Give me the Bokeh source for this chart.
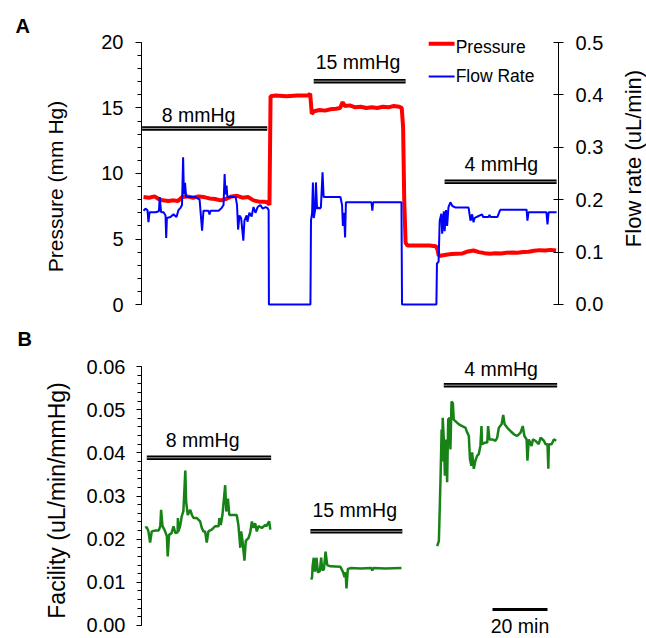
import math
from bokeh.plotting import figure
from bokeh.models import Range1d, LinearAxis, FixedTicker, PrintfTickFormatter
from bokeh.layouts import column, row
from bokeh.embed import file_html
from bokeh.resources import INLINE
from bokeh.core.properties import value

FONT = "Liberation Sans"

# ---------------- Panel A data (time in minutes) ----------------
pressure_points = [
    (0, 8.2), (2, 8.15), (4, 8.25), (5.5, 8.05), (7, 7.95), (9, 7.9), (11, 7.95), (12.5, 7.9),
    (14, 8.2), (16, 8.25), (18, 8.15), (20, 8.25), (22, 8.2), (24, 8.1), (26, 8.05), (28, 7.95),
    (30, 8.05), (32, 8.25), (34, 8.3), (36, 8.15), (38, 8.2), (40, 7.95), (42, 7.85), (44, 7.85),
    (45.3, 7.75), (45.8, 7.6), (46.2, 15.9), (48, 15.95), (52, 15.9), (56, 15.95), (60.0, 15.95),
    (60.6, 16.1), (61.2, 14.55), (62, 14.75), (64, 14.85), (66, 14.8), (68, 14.9), (70, 14.95),
    (71.5, 15.0), (72.4, 15.45), (73.2, 15.15), (75, 15.2), (77, 15.05), (79, 15.1), (81, 15.0),
    (83, 15.05), (85, 15.0), (87, 15.1), (89, 15.05), (91, 15.15), (93, 15.1), (93.9, 15.0),
    (94.4, 13.5), (94.8, 8.0), (95.3, 4.7), (96, 4.5), (100, 4.5), (104, 4.5), (106.3, 4.45),
    (106.9, 4.2), (107.3, 3.75), (108, 3.72), (110, 3.8), (112, 3.85), (114, 3.88), (116, 3.9),
    (118, 4.05), (120, 4.12), (122, 4.0), (124, 3.92), (126, 3.88), (128, 3.92), (130, 3.9),
    (132, 3.95), (134, 3.97), (136, 3.95), (138, 4.0), (140, 4.02), (142, 4.1), (144, 4.15),
    (146, 4.12), (148, 4.17), (150, 4.12),
]

flow_points = [
    (0.0, 0.179), (0.73, 0.183), (1.45, 0.180), (1.8, 0.157), (2.2, 0.176), (3.3, 0.176),
    (4.4, 0.176), (5.6, 0.178), (5.9, 0.205), (6.4, 0.176), (7.3, 0.176), (8.0, 0.170),
    (8.25, 0.127), (8.5, 0.165), (9.8, 0.167), (10.9, 0.172), (12.0, 0.167), (12.7, 0.180),
    (13.5, 0.185), (14.0, 0.190), (14.4, 0.281), (14.7, 0.210), (15.1, 0.232), (15.5, 0.205),
    (17.1, 0.205), (18.9, 0.205), (20.4, 0.200), (21.3, 0.141), (21.8, 0.179), (23.6, 0.179),
    (24.0, 0.172), (24.4, 0.179), (27.3, 0.179), (28.4, 0.184), (29.1, 0.190), (29.5, 0.249),
    (29.8, 0.210), (30.2, 0.227), (30.5, 0.205), (33.5, 0.205), (34.0, 0.190), (34.4, 0.143),
    (34.9, 0.170), (35.5, 0.165), (36.3, 0.122), (36.7, 0.160), (37.5, 0.170), (37.8, 0.158),
    (38.5, 0.175), (39.3, 0.168), (40.0, 0.186), (40.7, 0.175), (41.5, 0.186), (42.5, 0.190),
    (43.3, 0.183), (44.4, 0.186), (45.1, 0.184), (45.5, 0.180), (45.6, 0.0), (60.7, 0.0),
    (60.9, 0.160), (61.3, 0.175), (61.6, 0.233), (61.9, 0.165), (62.4, 0.180), (62.7, 0.233),
    (63.1, 0.183), (63.6, 0.185), (64.0, 0.183), (64.5, 0.185), (65.1, 0.2525), (65.5, 0.205),
    (68.0, 0.205), (71.6, 0.205), (72.2, 0.190), (72.5, 0.150), (72.9, 0.175), (73.3, 0.128),
    (73.6, 0.195), (78.9, 0.195), (82.9, 0.195), (83.2, 0.179), (83.5, 0.195), (93.8, 0.195),
    (94.0, 0.0), (106.5, 0.0), (106.7, 0.078), (107.3, 0.082), (107.7, 0.160), (108.3, 0.173),
    (108.6, 0.135), (109.2, 0.178), (109.5, 0.140), (110.0, 0.180), (110.4, 0.150),
    (110.9, 0.186), (111.6, 0.195), (112.3, 0.188), (113.5, 0.185), (118.2, 0.185),
    (118.9, 0.160), (119.5, 0.172), (120.0, 0.157), (120.4, 0.165), (121.1, 0.167),
    (123.1, 0.172), (123.5, 0.167), (125.5, 0.167), (125.8, 0.171), (126.2, 0.167),
    (128.7, 0.167), (129.5, 0.178), (129.8, 0.181), (139.3, 0.181), (139.6, 0.160),
    (140.0, 0.176), (146.5, 0.176), (146.9, 0.153), (147.3, 0.176), (150.2, 0.176),
]

# ---------------- Panel B data ----------------
facility8_points = [
    (0.6, 0.0226), (1.2, 0.0228), (1.8, 0.0218), (2.4, 0.0192), (3.0, 0.0218), (4.4, 0.0220),
    (5.5, 0.0220), (6.1, 0.0230), (6.4, 0.0268), (6.9, 0.0230), (7.6, 0.0222), (8.5, 0.0207),
    (8.8, 0.0160), (9.3, 0.0210), (10.2, 0.0214), (10.9, 0.0230), (11.6, 0.0214), (12.4, 0.0216),
    (12.5, 0.0249), (12.7, 0.0218), (13.3, 0.0230), (13.9, 0.0253), (14.5, 0.0265), (15.2, 0.0359),
    (15.5, 0.0287), (16.1, 0.0256), (17.0, 0.0268), (17.6, 0.0256), (18.2, 0.0249), (19.4, 0.0249),
    (20.6, 0.0241), (21.2, 0.0226), (21.8, 0.0218), (22.4, 0.0218), (23.0, 0.0192), (23.6, 0.0218),
    (24.8, 0.0222), (26.1, 0.0230), (27.3, 0.0230), (27.6, 0.0249), (28.1, 0.0233), (28.7, 0.0256),
    (29.7, 0.0325), (30.1, 0.0264), (30.7, 0.0294), (31.2, 0.0256), (32.4, 0.0256), (33.9, 0.0256),
    (34.5, 0.0233), (35.2, 0.0180), (35.5, 0.0218), (36.0, 0.0196), (36.7, 0.0150), (37.2, 0.0196),
    (38.2, 0.0203), (38.8, 0.0215), (39.4, 0.0241), (40.0, 0.0226), (40.6, 0.0237), (41.2, 0.0218),
    (41.8, 0.0230), (43.0, 0.0226), (44.3, 0.0233), (44.6, 0.0230), (45.7, 0.0241), (46.1, 0.0222),
]

facility15_points = [
    (61.0, 0.0106), (61.3, 0.0112), (61.5, 0.0138), (61.9, 0.0157), (62.3, 0.0125), (62.7, 0.0135),
    (62.9, 0.0157), (63.4, 0.0123), (64.1, 0.0126), (64.6, 0.0157), (65.0, 0.0128), (65.6, 0.0130),
    (66.2, 0.0171), (66.8, 0.0140), (68.0, 0.0137), (71.6, 0.0136), (72.6, 0.0123), (73.1, 0.0112),
    (73.5, 0.0123), (73.8, 0.0086), (74.3, 0.0131), (75.3, 0.0133), (78.9, 0.0132), (82.9, 0.0133),
    (83.2, 0.0127), (83.5, 0.0133), (88.0, 0.0132), (93.8, 0.0133),
]

facility4_points = [
    (106.8, 0.0184), (107.4, 0.0196), (107.8, 0.0290), (108.0, 0.0340), (108.4, 0.0454),
    (108.6, 0.0380), (108.8, 0.0481), (109.2, 0.0431), (109.6, 0.0347), (110.1, 0.0431),
    (110.4, 0.0332), (110.8, 0.0477), (111.3, 0.0481), (111.6, 0.0408), (112.0, 0.0519),
    (112.5, 0.0515), (112.8, 0.0477), (113.5, 0.0473), (114.7, 0.0466), (115.9, 0.0462),
    (117.1, 0.0458), (117.7, 0.0447), (118.3, 0.0439), (118.7, 0.0386), (119.2, 0.0370),
    (119.5, 0.0401), (120.1, 0.0363), (120.7, 0.0382), (121.3, 0.0393), (121.9, 0.0397),
    (122.5, 0.0416), (122.9, 0.0462), (123.1, 0.0420), (124.4, 0.0424), (125.0, 0.0424),
    (125.3, 0.0462), (125.8, 0.0431), (126.8, 0.0431), (128.0, 0.0428), (128.6, 0.0435),
    (129.2, 0.0458), (130.2, 0.0466), (130.8, 0.0488), (131.3, 0.0466), (132.3, 0.0458),
    (133.5, 0.0450), (134.7, 0.0443), (135.9, 0.0439), (137.1, 0.0447), (137.9, 0.0462),
    (138.5, 0.0439), (139.3, 0.0431), (139.6, 0.0382), (140.1, 0.0431), (141.1, 0.0416),
    (141.6, 0.0431), (142.5, 0.0428), (143.7, 0.0420), (144.4, 0.0435), (145.6, 0.0428),
    (146.2, 0.0420), (146.9, 0.0420), (147.2, 0.0363), (147.4, 0.0420), (148.4, 0.0420),
    (149.2, 0.0431), (150.1, 0.0428),
]

# condition annotations (bars + labels)
cond_labels = ["8 mmHg", "15 mmHg", "4 mmHg"]
condA_start = [-0.5, 61.9, 109.5]
condA_end = [45.0, 95.3, 150.2]
condA_level = [13.44, 17.05, 9.37]
condA_text_x = [20.0, 78.0, 130.1]
condA_text_y = [14.49, 18.49, 10.73]

condB_start = [1.2, 60.7, 109.2]
condB_end = [46.4, 94.1, 150.4]
condB_level = [0.03886, 0.02183, 0.05567]
condB_text_x = [21.5, 76.8, 130.0]
condB_text_y = [0.04289, 0.02674, 0.05943]

scale_bar_start = [126.9]
scale_bar_end = [146.9]
scale_bar_label = ["20 min"]

legend_labels = ["Pressure", "Flow Rate"]

pA_ticks = [0, 5, 10, 15, 20]
pA_minor = list(range(0, 21))
flow_ticks = [0.0, 0.1, 0.2, 0.3, 0.4, 0.5]
fac_ticks = [0.0, 0.01, 0.02, 0.03, 0.04, 0.05, 0.06]
fac_minor = [round(i * 0.002, 3) for i in range(31)]


def unzip(points):
    return [p[0] for p in points], [p[1] for p in points]


LEFT_W, RIGHT_W = 72, 36
MAIN_W = 646 - LEFT_W - RIGHT_W
HA, HB = 318, 320
T_RANGE = (-0.73, 150.9)


def style_axis(ax, size="20px"):
    ax.axis_line_color = "black"
    ax.axis_line_width = 1
    ax.major_tick_line_color = "black"
    ax.minor_tick_line_color = "black"
    ax.major_label_text_font = FONT
    ax.major_label_text_font_size = size
    ax.major_label_text_color = "black"


def bare(p):
    p.outline_line_color = None
    p.grid.grid_line_color = None
    p.background_fill_color = "white"
    p.border_fill_color = "white"
    return p


def make_fig(height, y_range):
    p = figure(width=MAIN_W, height=height, output_backend="svg", toolbar_location=None,
               x_range=Range1d(*T_RANGE), y_range=Range1d(*y_range),
               x_axis_location=None, y_axis_location="left", title=None,
               min_border_left=141 - LEFT_W, min_border_right=MAIN_W - (558 - LEFT_W),
               min_border_top=0, min_border_bottom=0)
    return bare(p)


def gutter(width, height):
    g = figure(width=width, height=height, output_backend="svg", toolbar_location=None,
               x_range=Range1d(0, width), y_range=Range1d(0, height),
               x_axis_location=None, y_axis_location=None, title=None,
               min_border_left=0, min_border_right=0, min_border_top=0, min_border_bottom=0)
    return bare(g)


def double_bar(p, x0, x1, y):
    p.segment(x0=x0, y0=y, x1=x1, y1=y, line_color="black", line_width=4.5)
    p.segment(x0=x0, y0=y, x1=x1, y1=y, line_color="#a0a0a0", line_width=1)


# ---------------- Panel A ----------------
pA = make_fig(HA, (-1.0687, 23.2061))
pA.extra_y_ranges = {"flow": Range1d(-0.026718, 0.580153)}

ax = pA.yaxis[0]
style_axis(ax)
ax.bounds = (0, 20)
ax.ticker = FixedTicker(ticks=pA_ticks, minor_ticks=pA_minor)
ax.major_tick_out = 6
ax.major_tick_in = 0
ax.minor_tick_out = 4
ax.minor_tick_in = 0
ax.major_label_standoff = 12

rax = LinearAxis(y_range_name="flow", bounds=(0, 0.5),
                 ticker=FixedTicker(ticks=flow_ticks),
                 formatter=PrintfTickFormatter(format="%.1f"))
style_axis(rax)
rax.major_tick_out = 5
rax.major_tick_in = 5
rax.minor_tick_out = 0
rax.minor_tick_in = 0
rax.major_label_standoff = 12
pA.add_layout(rax, "right")

pt, pv = unzip(pressure_points)
ft, fv = unzip(flow_points)
pA.line(pt, pv, line_color="#ff0000", line_width=4)
pA.line(ft, fv, line_color="#0000ff", line_width=2, y_range_name="flow")

double_bar(pA, condA_start, condA_end, condA_level)
pA.text(x=condA_text_x, y=condA_text_y, text=cond_labels, text_font=value(FONT),
        text_font_size="19.5px", text_align="center", text_baseline="alphabetic", text_color="black")

# legend
pA.segment(x0=[103.7], y0=[19.9], x1=[113.1], y1=[19.9], line_color="#ff0000", line_width=4)
pA.segment(x0=[103.7], y0=[17.4], x1=[113.1], y1=[17.4], line_color="#0000ff", line_width=2)
pA.text(x=[113.5, 113.5], y=[19.66, 17.47], text=legend_labels, text_font=value(FONT),
        text_font_size="17.5px", text_align="left", text_baseline="alphabetic", text_color="black")

# ---------------- Panel B ----------------
pB = make_fig(HB, (-0.0030116, 0.071120))
bx = pB.yaxis[0]
style_axis(bx)
bx.bounds = (0, 0.06)
bx.ticker = FixedTicker(ticks=fac_ticks, minor_ticks=fac_minor)
bx.formatter = PrintfTickFormatter(format="%.2f")
bx.major_tick_out = 5
bx.major_tick_in = 0
bx.minor_tick_out = 4
bx.minor_tick_in = 0
bx.major_label_standoff = 11

for pts in (facility8_points, facility15_points, facility4_points):
    t, v = unzip(pts)
    pB.line(t, v, line_color="#178317", line_width=2.5)

double_bar(pB, condB_start, condB_end, condB_level)
pB.text(x=condB_text_x, y=condB_text_y, text=cond_labels, text_font=value(FONT),
        text_font_size="19.5px", text_align="center", text_baseline="alphabetic", text_color="black")

pB.segment(x0=scale_bar_start, y0=[0.0037], x1=scale_bar_end, y1=[0.0037],
           line_color="black", line_width=3)
pB.text(x=[(scale_bar_start[0] + scale_bar_end[0]) / 2], y=[-0.00012], text=scale_bar_label,
        text_font=value(FONT), text_font_size="19.5px", text_align="center",
        text_baseline="alphabetic", text_color="black")

# ---------------- gutters: panel letters and axis titles ----------------
H = HA + HB
gl = gutter(LEFT_W, H)
gl.text(x=[15, 17], y=[H - 25.5, H - 338.5], text=["A", "B"], text_font=value(FONT),
        text_font_size="20px", text_font_style="bold", text_align="left",
        text_baseline="alphabetic", text_color="black")
gl.text(x=[55], y=[H - 186], text=["Pressure (mm Hg)"], text_font=value(FONT),
        text_font_size="21px", angle=math.pi / 2, text_align="center",
        text_baseline="middle", text_color="black")
gl.text(x=[56], y=[H - 500], text=["Facility (uL/min/mmHg)"], text_font=value(FONT),
        text_font_size="23px", angle=math.pi / 2, text_align="center",
        text_baseline="middle", text_color="black")

gr = gutter(RIGHT_W, H)
gr.text(x=[633 - (646 - RIGHT_W)], y=[H - 158], text=["Flow rate (uL/min)"], text_font=value(FONT),
        text_font_size="22px", angle=math.pi / 2, text_align="center",
        text_baseline="middle", text_color="black")

layout = row(gl, column(pA, pB, spacing=0), gr, spacing=0)
open("out.html", "w").write(file_html(layout, INLINE))
